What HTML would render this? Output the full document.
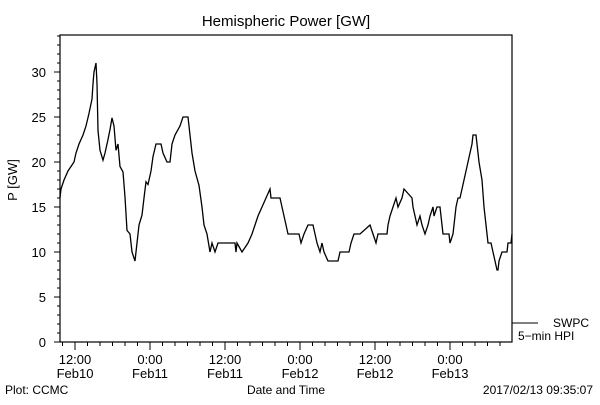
<!DOCTYPE html>
<html><head><meta charset="utf-8"><style>
body{margin:0;background:#fff}
svg text{font-family:"Liberation Sans",sans-serif;fill:#000}
</style></head><body>
<svg id="chart" width="600" height="400" xmlns="http://www.w3.org/2000/svg">
<rect width="600" height="400" fill="#fff"/>
<text x="286" y="26" font-size="15" text-anchor="middle">Hemispheric Power [GW]</text>
<text transform="translate(17,180) rotate(-90)" font-size="13" text-anchor="middle">P [GW]</text>
<text x="286" y="394" font-size="12" text-anchor="middle">Date and Time</text>
<text x="5" y="394" font-size="12">Plot: CCMC</text>
<text x="593" y="394" font-size="12" text-anchor="end">2017/02/13 09:35:07</text>
<g id="axes"></g>
<g id="series"></g>
<g>
<line x1="512" y1="323" x2="538" y2="323" stroke="#000"/>
<text x="553" y="327" font-size="12">SWPC</text>
<text x="518" y="340" font-size="12">5−min HPI</text>
</g>
</svg>
<script>
const tickLabelsTime=["12:00","0:00","12:00","0:00","12:00","0:00"];
const tickLabelsDate=["Feb10","Feb11","Feb11","Feb12","Feb12","Feb13"];
const yTicks=[0,5,10,15,20,25,30];
// hours since 12:00 Feb10
const times=[-2.4,-2.24,-1.76,-1.12,-0.16,0.16,0.64,1.28,1.76,2.24,2.72,2.88,3.04,3.36,3.52,3.68,4.0,4.48,4.8,5.28,5.6,5.92,6.24,6.56,6.88,7.2,7.68,8.0,8.32,8.8,9.12,9.6,9.92,10.24,10.72,11.04,11.36,11.68,12.16,12.48,12.96,13.76,14.08,14.72,15.2,15.52,16.0,16.8,17.28,18.08,18.4,18.72,19.2,19.84,20.32,20.64,21.12,21.6,21.92,22.4,22.88,25.6,25.76,25.92,26.72,27.68,28.32,28.8,29.28,29.92,30.56,31.2,31.36,32.8,33.12,33.44,33.76,34.08,35.84,36.16,36.64,37.28,38.08,38.4,38.72,39.2,39.52,39.84,40.48,42.08,42.4,43.84,44.16,44.64,45.6,47.2,47.68,48.16,48.48,49.92,50.08,50.4,50.88,51.36,51.68,52.32,52.64,53.92,54.08,54.4,54.72,55.2,55.52,56.0,56.48,56.8,57.28,57.44,57.92,58.4,58.72,58.88,59.84,60.0,60.48,60.96,61.28,61.6,61.92,62.24,62.56,62.88,63.2,63.52,63.68,64.16,64.32,64.64,65.12,65.44,65.76,66.08,66.56,66.88,67.2,67.52,67.68,67.84,68.32,69.12,69.28,69.76,69.92];
const power=[16,17,18,19,20,21,22,23,24,25.4,27,28.7,30,31,28.7,23.5,21.3,20.2,21,22.5,23.6,24.9,24,21.3,22,19.5,18.9,16.1,12.4,12,10,9,11,13,14.1,16,17.8,17.5,19,20.6,22,22,21,20,20,22,23,24,25,25,23,21,19,17.4,15,13,12,10,11,10,11,11,10,11,10,11,12,13,14,15,16,17,16,16,15,14,13,12,12,11,12,13,13,12,11,10,11,10,9,9,10,10,11,12,12,13,12,11,12,12,13,14,15,16,15,16,17,16,15,14,13,14,13,12,13,14,15,14,15,15,13,12,12,11,12,15,16,16,17,18,19,20,21,22,23,23,22,20,18,15,13,11,11,10,9,8,8,9,10,10,11,11,12];
const L=60,R=512,T=35,B=342,T0=-2.4,T1=69.92;
const xs=t=>L+(t-T0)/(T1-T0)*(R-L);
const ys=v=>B-v*9;
const NS="http://www.w3.org/2000/svg";
const ax=document.getElementById('axes');
function mk(tag,attrs,parent){const e=document.createElementNS(NS,tag);for(const k in attrs)e.setAttribute(k,attrs[k]);parent.appendChild(e);return e;}
const frame=mk('rect',{x:L,y:T,width:R-L,height:B-T,fill:'none',stroke:'#000','stroke-width':1.2},ax);


for(let v=0;v<=34;v++){
  const major=v%5===0;
  const tk=mk('line',{x1:L-(major?6:3),x2:L,y1:ys(v),y2:ys(v),stroke:'#000'},ax);
  
  
}
yTicks.forEach(v=>{
  const t=mk('text',{x:L-14,y:ys(v)+5,'font-size':13,'text-anchor':'end'},ax);
  t.textContent=v;
  
  
});
for(let h=-2;h<=69;h+=2){
  const major=h%12===0;
  const tk=mk('line',{x1:xs(h),x2:xs(h),y1:B,y2:B+(major?8:4),stroke:'#000'},ax);
  
  
}
tickLabelsTime.forEach((s,i)=>{
  const x=xs(i*12);
  const a=mk('text',{x:x,y:364,'font-size':13,'text-anchor':'middle'},ax);
  a.textContent=s;
  
  
  const b=mk('text',{x:x,y:378,'font-size':13,'text-anchor':'middle'},ax);
  b.textContent=tickLabelsDate[i];
  
  
});
let d='';
times.forEach((t,i)=>{d+=(i?'L':'M')+xs(t).toFixed(1)+','+ys(power[i]).toFixed(1);});
const p=mk('path',{d:d,fill:'none',stroke:'#000','stroke-width':1.3},document.getElementById('series'));


</script>
</body></html>
